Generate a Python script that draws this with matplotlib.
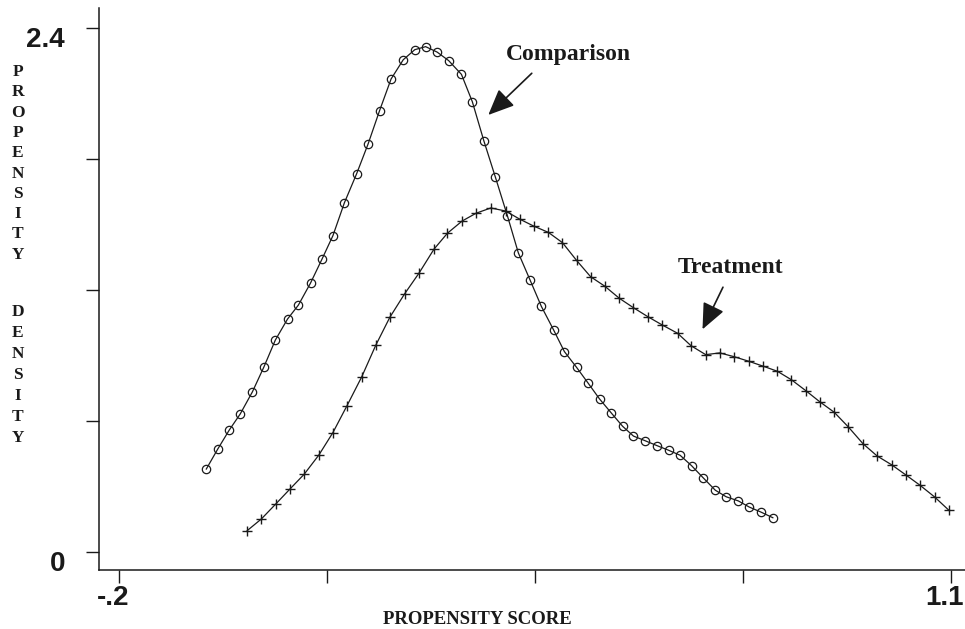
import numpy as np
import matplotlib
matplotlib.use("Agg")
import matplotlib.pyplot as plt
import matplotlib.transforms as mtransforms

# propensity score densities
comp_x = [-0.064, -0.046, -0.028, -0.011, 0.008, 0.026, 0.044, 0.063, 0.080, 0.099,
          0.117, 0.134, 0.152, 0.171, 0.189, 0.207, 0.225, 0.244, 0.262, 0.279,
          0.297, 0.315, 0.335, 0.352, 0.370, 0.388, 0.407, 0.424, 0.442, 0.460,
          0.479, 0.496, 0.515, 0.533, 0.551, 0.569, 0.587, 0.604, 0.622, 0.641,
          0.659, 0.677, 0.695, 0.713, 0.732, 0.749, 0.768, 0.785, 0.804, 0.822]
comp_y = [0.380, 0.472, 0.559, 0.632, 0.733, 0.847, 0.971, 1.067, 1.131, 1.232,
          1.342, 1.449, 1.600, 1.732, 1.869, 2.022, 2.167, 2.255, 2.301, 2.315,
          2.290, 2.251, 2.188, 2.063, 1.884, 1.718, 1.539, 1.370, 1.248, 1.125,
          1.018, 0.918, 0.846, 0.774, 0.701, 0.638, 0.576, 0.531, 0.510, 0.487,
          0.466, 0.443, 0.395, 0.340, 0.283, 0.253, 0.234, 0.206, 0.182, 0.157]

treat_x = [0.000, 0.022, 0.045, 0.067, 0.089, 0.112, 0.134, 0.156, 0.179, 0.201,
           0.223, 0.246, 0.269, 0.292, 0.313, 0.336, 0.358, 0.381, 0.404, 0.426,
           0.448, 0.471, 0.493, 0.515, 0.537, 0.559, 0.582, 0.604, 0.627, 0.649,
           0.673, 0.694, 0.717, 0.739, 0.761, 0.784, 0.807, 0.829, 0.851, 0.874,
           0.895, 0.918, 0.940, 0.963, 0.985, 1.008, 1.030, 1.052, 1.075, 1.097]
treat_y = [0.098, 0.151, 0.221, 0.289, 0.356, 0.444, 0.547, 0.670, 0.802, 0.947,
           1.075, 1.182, 1.279, 1.387, 1.460, 1.516, 1.552, 1.576, 1.562, 1.525,
           1.493, 1.464, 1.417, 1.336, 1.261, 1.218, 1.162, 1.119, 1.077, 1.040,
           1.002, 0.945, 0.904, 0.912, 0.895, 0.874, 0.851, 0.828, 0.789, 0.738,
           0.689, 0.640, 0.573, 0.496, 0.440, 0.399, 0.353, 0.306, 0.252, 0.192]

x_ticks = [-0.2, 0.125, 0.45, 0.775, 1.1]
x_labels = ["-.2", "", "", "", "1.1"]
y_ticks = [0, 0.6, 1.2, 1.8, 2.4]
y_labels = ["0", "", "", "", "2.4"]

ink = "#1a1a1a"
serif = "Liberation Serif"
sans = "Liberation Sans"

fig = plt.figure(figsize=(9.65, 6.29), dpi=100)
ax = fig.add_axes([99 / 965, 1 - 570 / 629, 1 - 99 / 965, (570 - 8) / 629])

ax.plot(comp_x, comp_y, color=ink, lw=0.9, marker="o", ms=6,
        mfc="none", mec=ink, mew=0.9)
ax.plot(treat_x, treat_y, color=ink, lw=0.9, marker="+", ms=7,
        mec=ink, mew=1.0)

ax.set_xlim(-0.2318, 1.1225)
ax.set_ylim(-0.0825, 2.492)

for side in ["top", "right"]:
    ax.spines[side].set_visible(False)
for side in ["left", "bottom"]:
    ax.spines[side].set_linewidth(1.1)
    ax.spines[side].set_color(ink)

ax.set_xticks(x_ticks)
ax.set_xticklabels(x_labels, fontfamily=sans, fontweight="bold", fontsize=20, color=ink)
ax.set_yticks(y_ticks)
ax.set_yticklabels(y_labels, fontfamily=sans, fontweight="bold", fontsize=20, color=ink)
ax.tick_params(axis="both", direction="out", length=9.4, width=1.0, color=ink)
ax.tick_params(axis="x", pad=1.5)
ax.tick_params(axis="y", pad=15)

# labels sit a bit off their ticks in the original
shift_x = mtransforms.ScaledTranslation(-0.06, 0, fig.dpi_scale_trans)
for lab in ax.get_xticklabels():
    lab.set_transform(lab.get_transform() + shift_x)
shift_y = mtransforms.ScaledTranslation(0, -0.09, fig.dpi_scale_trans)
for lab in ax.get_yticklabels():
    lab.set_transform(lab.get_transform() + shift_y)

# x label
fig.text(477 / 965, 1 - 620 / 629, "PROPENSITY SCORE", ha="center", va="center",
         fontfamily=serif, fontweight="bold", fontsize=13.5, color=ink)

# stacked y label, one letter per line
for i, ch in enumerate("PROPENSITY"):
    fig.text(18 / 965, 1 - (72 + i * 20.3) / 629, ch, ha="center", va="center",
             fontfamily=serif, fontweight="bold", fontsize=12.5, color=ink)
for i, ch in enumerate("DENSITY"):
    fig.text(18 / 965, 1 - (312 + i * 21.0) / 629, ch, ha="center", va="center",
             fontfamily=serif, fontweight="bold", fontsize=12.5, color=ink)

# annotations
arrow = dict(arrowstyle="-|>,head_length=1.6,head_width=0.7",
             color=ink, lw=1.2, shrinkA=0, shrinkB=0)
ax.text(0.502, 2.277, "Comparison", ha="center", va="center",
        fontfamily=serif, fontweight="bold", fontsize=17, color=ink)
ax.annotate("", xy=(0.377, 2.002), xytext=(0.445, 2.193), arrowprops=arrow)
ax.text(0.755, 1.301, "Treatment", ha="center", va="center",
        fontfamily=serif, fontweight="bold", fontsize=17, color=ink)
ax.annotate("", xy=(0.712, 1.020), xytext=(0.744, 1.213), arrowprops=arrow)

fig.savefig("out.png", dpi=100)
